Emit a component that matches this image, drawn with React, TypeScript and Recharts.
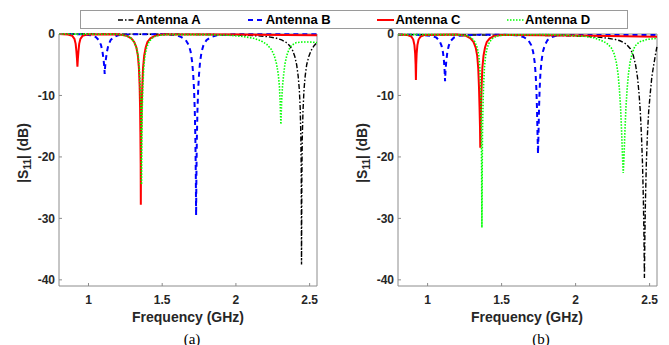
import React from 'react';
import { LineChart, Line, XAxis, YAxis, ReferenceArea } from 'recharts';

type Pt = [number, number];

const xTicks = [1, 1.5, 2, 2.5];
const yTicks = [0, -10, -20, -30, -40];
const xDomain: [number, number] = [0.8, 2.55];
const yDomain: [number, number] = [-41, 0];

// panel (a)
const antennaA_a: Pt[] = [
  [0.8, 0], [1.2, -0.02], [1.6, -0.05], [1.9, -0.1], [2.05, -0.2], [2.15, -0.3], [2.22, -0.45],
  [2.27, -0.65], [2.31, -0.95], [2.34, -1.35], [2.365, -1.9], [2.385, -2.7], [2.4, -3.7],
  [2.412, -5], [2.422, -6.8], [2.43, -9], [2.436, -12], [2.44, -16], [2.443, -22], [2.445, -37.5],
  [2.447, -24], [2.45, -17], [2.455, -12.5], [2.462, -9], [2.47, -6.8], [2.48, -5], [2.495, -3.6],
  [2.51, -2.7], [2.53, -1.9], [2.55, -1.4],
];
const antennaB_a: Pt[] = [
  [0.8, 0], [0.95, -0.05], [1.02, -0.2], [1.05, -0.5], [1.07, -1], [1.085, -1.8], [1.095, -2.9],
  [1.102, -4.1], [1.107, -5.3], [1.11, -6.5], [1.113, -5.3], [1.118, -4.1], [1.125, -2.9],
  [1.135, -1.8], [1.15, -1], [1.17, -0.5], [1.2, -0.2], [1.3, -0.05], [1.5, -0.05], [1.6, -0.2],
  [1.63, -0.5], [1.66, -1], [1.68, -1.8], [1.693, -2.9], [1.703, -4.5], [1.71, -6.5], [1.716, -9],
  [1.721, -12.5], [1.725, -17], [1.728, -23], [1.73, -29.5], [1.732, -23], [1.735, -17],
  [1.739, -12.5], [1.744, -9], [1.75, -6.5], [1.757, -4.5], [1.767, -2.9], [1.78, -1.8],
  [1.8, -1], [1.83, -0.5], [1.87, -0.2], [2.0, -0.05], [2.55, -0.05],
];
const antennaC_a: Pt[] = [
  [0.8, 0], [0.86, -0.1], [0.89, -0.3], [0.905, -0.8], [0.913, -1.6], [0.918, -2.8], [0.922, -4],
  [0.925, -5.3], [0.928, -4], [0.932, -2.8], [0.937, -1.6], [0.945, -0.8], [0.96, -0.3],
  [0.99, -0.1], [1.2, -0.05], [1.26, -0.3], [1.29, -0.7], [1.31, -1.3], [1.325, -2.2],
  [1.335, -3.5], [1.342, -5.5], [1.347, -8.5], [1.35, -12], [1.352, -16], [1.354, -21],
  [1.355, -27.8], [1.356, -21], [1.358, -16], [1.361, -12], [1.365, -8.5], [1.37, -5.5],
  [1.378, -3.5], [1.388, -2.2], [1.4, -1.3], [1.42, -0.7], [1.45, -0.3], [1.5, -0.1],
  [2.0, -0.1], [2.55, -0.2],
];
const antennaD_a: Pt[] = [
  [0.8, 0], [1.2, -0.05], [1.26, -0.3], [1.29, -0.7], [1.31, -1.3], [1.325, -2.2], [1.337, -3.5],
  [1.345, -5.5], [1.351, -8.5], [1.355, -12], [1.358, -17], [1.36, -24.5], [1.362, -17],
  [1.365, -12], [1.369, -8.5], [1.375, -5.5], [1.383, -3.5], [1.395, -2.2], [1.41, -1.3],
  [1.43, -0.7], [1.46, -0.3], [1.52, -0.1], [1.8, -0.1], [1.95, -0.2], [2.05, -0.4], [2.12, -0.7],
  [2.17, -1.1], [2.21, -1.7], [2.24, -2.5], [2.26, -3.5], [2.275, -4.8], [2.287, -6.5],
  [2.295, -8.5], [2.3, -11], [2.305, -14.7], [2.31, -11], [2.316, -8.5], [2.324, -6.5],
  [2.333, -4.8], [2.345, -3.5], [2.36, -2.5], [2.38, -1.8], [2.41, -1.4], [2.45, -1.3],
  [2.5, -1.3], [2.55, -1.4],
];

// panel (b)
const antennaA_b: Pt[] = [
  [0.8, -0.1], [1.2, -0.15], [1.6, -0.2], [1.9, -0.25], [2.05, -0.35], [2.15, -0.5], [2.22, -0.7],
  [2.27, -0.9], [2.3, -1.1], [2.34, -1.6], [2.37, -2.4], [2.39, -3.5], [2.405, -5], [2.418, -7],
  [2.428, -9.5], [2.437, -12.5], [2.445, -16.5], [2.452, -21], [2.458, -27], [2.462, -33],
  [2.465, -39.7], [2.468, -33], [2.472, -27], [2.478, -21], [2.485, -16.5], [2.494, -12.5],
  [2.505, -9.5], [2.515, -7], [2.528, -5], [2.54, -3.3], [2.55, -2],
];
const antennaB_b: Pt[] = [
  [0.8, -0.1], [0.95, -0.15], [1.03, -0.3], [1.06, -0.6], [1.08, -1.1], [1.094, -1.9],
  [1.104, -3], [1.111, -4.5], [1.115, -6], [1.118, -7.7], [1.121, -6], [1.126, -4.5],
  [1.133, -3], [1.143, -1.9], [1.157, -1.1], [1.177, -0.6], [1.21, -0.3], [1.3, -0.15],
  [1.5, -0.1], [1.6, -0.2], [1.65, -0.5], [1.68, -1], [1.7, -1.8], [1.713, -2.9], [1.723, -4.5],
  [1.73, -6.5], [1.735, -9], [1.739, -12], [1.742, -15.5], [1.746, -19.5], [1.75, -15.5],
  [1.753, -12], [1.757, -9], [1.762, -6.5], [1.769, -4.5], [1.779, -2.9], [1.792, -1.8],
  [1.81, -1], [1.84, -0.5], [1.88, -0.2], [2.0, -0.15], [2.55, -0.15],
];
const antennaC_b: Pt[] = [
  [0.8, -0.1], [0.86, -0.15], [0.89, -0.4], [0.903, -0.9], [0.911, -1.8], [0.916, -3.2],
  [0.919, -5], [0.921, -7.5], [0.923, -5], [0.926, -3.2], [0.931, -1.8], [0.939, -0.9],
  [0.953, -0.4], [0.98, -0.15], [1.2, -0.1], [1.26, -0.3], [1.29, -0.7], [1.31, -1.3],
  [1.325, -2.2], [1.335, -3.5], [1.342, -5.5], [1.347, -8.5], [1.351, -12], [1.354, -15],
  [1.356, -18.5], [1.358, -15], [1.361, -12], [1.365, -8.5], [1.37, -5.5], [1.378, -3.5],
  [1.388, -2.2], [1.4, -1.3], [1.42, -0.7], [1.45, -0.3], [1.5, -0.15], [2.0, -0.25],
  [2.55, -0.45],
];
const antennaD_b: Pt[] = [
  [0.8, -0.1], [1.2, -0.1], [1.27, -0.3], [1.3, -0.7], [1.32, -1.3], [1.335, -2.2], [1.346, -3.5],
  [1.353, -5.5], [1.358, -8.5], [1.361, -12], [1.363, -16], [1.365, -22], [1.367, -31.5],
  [1.369, -22], [1.371, -16], [1.374, -12], [1.378, -8.5], [1.384, -5.5], [1.392, -3.5],
  [1.403, -2.2], [1.418, -1.3], [1.44, -0.7], [1.47, -0.3], [1.53, -0.15], [1.8, -0.1],
  [1.95, -0.2], [2.05, -0.35], [2.12, -0.6], [2.17, -1], [2.21, -1.5], [2.24, -2.2],
  [2.26, -3.2], [2.275, -4.6], [2.287, -6.5], [2.296, -9], [2.304, -12], [2.311, -16],
  [2.317, -20], [2.322, -22.6], [2.327, -20], [2.333, -16], [2.34, -12], [2.348, -9],
  [2.357, -6.5], [2.368, -4.6], [2.382, -3.2], [2.4, -2], [2.43, -1.3], [2.48, -0.9], [2.55, -0.7],
];

const seriesStyle = [
  { name: 'Antenna A', color: '#000000', dash: '5 2 1.5 2', width: 1.4 },
  { name: 'Antenna B', color: '#0000ff', dash: '5 4', width: 2 },
  { name: 'Antenna C', color: '#ff0000', dash: undefined, width: 2 },
  { name: 'Antenna D', color: '#00ff00', dash: '1.5 1.5', width: 1.6 },
];

const panelA = [antennaA_a, antennaB_a, antennaC_a, antennaD_a];
const panelB = [antennaA_b, antennaB_b, antennaC_b, antennaD_b];

const FONT = '"Liberation Sans", Arial, sans-serif';
const AXIS = '#8c8c8c';
const TEXT = '#262626';
const X_MARGIN = 9;
const Y_MARGIN = 4;

const toRows = (pts: Pt[]) => pts.map(([f, v]) => ({ f, v }));

const XTick = (props: any) => {
  const { x, y, payload } = props;
  const axisY = y - X_MARGIN;
  return (
    <g>
      <line x1={x} x2={x} y1={axisY} y2={axisY - 3} stroke={AXIS} />
      <text x={x} y={y} dy="0.71em" textAnchor="middle" fontFamily={FONT} fontWeight="bold" fontSize={12} fill={TEXT}>
        {payload.value}
      </text>
    </g>
  );
};

const YTick = (props: any) => {
  const { x, y, payload } = props;
  const axisX = x + Y_MARGIN;
  return (
    <g>
      <line x1={axisX} x2={axisX + 3} y1={y} y2={y} stroke={AXIS} />
      <text x={x} y={y} dy="0.355em" textAnchor="end" fontFamily={FONT} fontWeight="bold" fontSize={12} fill={TEXT}>
        {payload.value}
      </text>
    </g>
  );
};

const centered = (x: number, y: number): React.CSSProperties => ({
  position: 'absolute',
  left: x,
  top: y,
  transform: 'translate(-50%, -50%)',
  whiteSpace: 'nowrap',
});

const Panel = ({ left, sets, tag, tagX, right }: { left: number; sets: Pt[][]; tag: string; tagX: number; right: number }) => (
  <div style={{ position: 'absolute', left, top: 0, width: 330, height: 345 }}>
    <LineChart width={330} height={345} margin={{ top: 34, right, bottom: 29, left: 20 }}>
      <XAxis
        type="number"
        dataKey="f"
        domain={xDomain}
        ticks={xTicks}
        axisLine={false}
        tickLine={false}
        tickSize={0}
        tickMargin={X_MARGIN}
        height={30}
        tick={(p: any) => <XTick {...p} />}
      />
      <YAxis
        type="number"
        dataKey="v"
        domain={yDomain}
        ticks={yTicks}
        axisLine={false}
        tickLine={false}
        tickSize={0}
        tickMargin={Y_MARGIN}
        width={39}
        tick={(p: any) => <YTick {...p} />}
      />
      <ReferenceArea x1={xDomain[0]} x2={xDomain[1]} y1={yDomain[0]} y2={yDomain[1]} fill="none" stroke={AXIS} strokeWidth={1} fillOpacity={0} />
      {sets.map((pts, i) => (
        <Line
          key={seriesStyle[i].name}
          data={toRows(pts)}
          dataKey="v"
          type="linear"
          stroke={seriesStyle[i].color}
          strokeWidth={seriesStyle[i].width}
          strokeDasharray={seriesStyle[i].dash}
          dot={false}
          activeDot={false}
          isAnimationActive={false}
        />
      ))}
    </LineChart>
    <div style={{ ...centered(24, 153), transform: 'translate(-50%, -50%) rotate(-90deg)', fontFamily: FONT, fontWeight: 'bold', fontSize: 14, color: TEXT }}>
      |S<sub style={{ fontSize: 10 }}>11</sub>| (dB)
    </div>
    <div style={{ ...centered(188, 317), fontFamily: FONT, fontWeight: 'bold', fontSize: 14, color: TEXT }}>
      Frequency (GHz)
    </div>
    <div style={{ ...centered(tagX, 339), fontFamily: '"Liberation Serif", "Times New Roman", serif', fontSize: 15, color: '#000' }}>
      {tag}
    </div>
  </div>
);

export default function App() {
  return (
    <div style={{ position: 'absolute', left: 0, top: 0, width: 669, height: 345, background: '#fff', overflow: 'hidden' }}>
      <Panel left={0} sets={panelA} tag="(a)" tagX={192} right={13} />
      <Panel left={339} sets={panelB} tag="(b)" tagX={202} right={12} />
      <div
        style={{
          position: 'absolute',
          left: 80,
          top: 10,
          width: 548,
          height: 19,
          boxSizing: 'border-box',
          border: '1px solid #9a9a9a',
          background: '#fff',
        }}
      >
        {seriesStyle.map((s, i) => (
          <div
            key={s.name}
            style={{
              position: 'absolute',
              left: 37 + i * 129.7,
              top: 0,
              height: 17,
              display: 'flex',
              alignItems: 'center',
              fontFamily: FONT,
              fontWeight: 'bold',
              fontSize: 13,
              color: '#000',
              whiteSpace: 'nowrap',
            }}
          >
            <svg width={17} height={6} style={{ marginRight: 1 }}>
              <line x1={0} x2={17} y1={3} y2={3} stroke={s.color} strokeWidth={s.width} strokeDasharray={s.dash} />
            </svg>
            {s.name}
          </div>
        ))}
      </div>
    </div>
  );
}
